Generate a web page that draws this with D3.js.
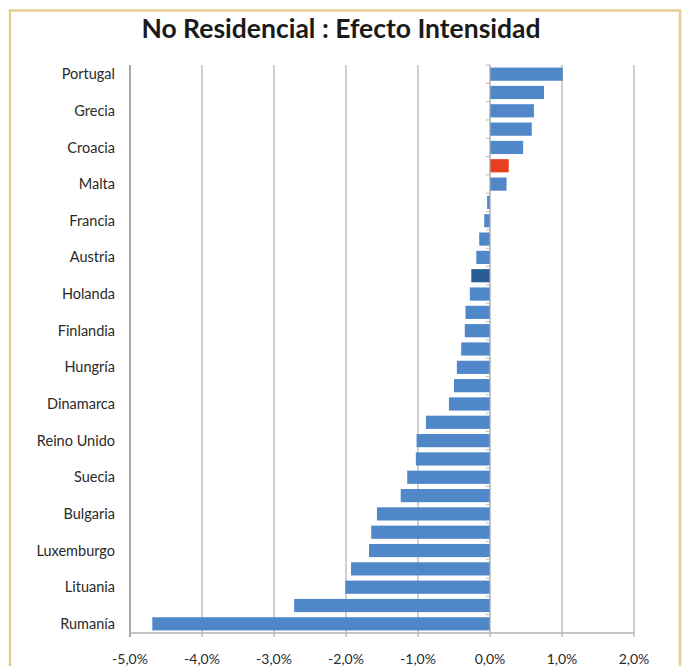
<!DOCTYPE html>
<html>
<head>
<meta charset="utf-8">
<script src="https://cdn.jsdelivr.net/npm/d3@7"></script>
<style>
html,body{margin:0;padding:0;background:#fff;}
svg{display:block;}
</style>
</head>
<body>
<svg id="chart" width="683" height="666"></svg>
<script>
// Data (top to bottom); unlabeled bars have "" labels (Excel skipped them)
const categories = ["Portugal","","Grecia","","Croacia","","Malta","","Francia","","Austria","","Holanda","","Finlandia","","Hungría","","Dinamarca","","Reino Unido","","Suecia","","Bulgaria","","Luxemburgo","","Lituania","","Rumanía"];
const values = [1.01,0.75,0.61,0.58,0.46,0.26,0.23,-0.04,-0.08,-0.15,-0.19,-0.26,-0.28,-0.34,-0.35,-0.40,-0.46,-0.50,-0.57,-0.89,-1.02,-1.03,-1.15,-1.24,-1.57,-1.65,-1.68,-1.93,-2.01,-2.72,-4.69];
const highlightRed = [5];   // index of red bar
const highlightDark = [11]; // index of dark-blue bar
const xTicks = [-5,-4,-3,-2,-1,0,1,2];
const title = "No Residencial : Efecto Intensidad";

const svg = d3.select("#chart");
const plot = {left:130, right:634, top:65, bottom:633};

// frame
svg.append("rect").attr("x",10).attr("y",10.5).attr("width",670).attr("height",700)
  .attr("fill","none").attr("stroke","#E3CD90").attr("stroke-width",2.5);

svg.append("text").attr("x",341).attr("y",38).attr("text-anchor","middle")
  .attr("font-family","Lato, 'Open Sans', sans-serif").attr("font-weight","bold")
  .attr("font-size",26.5).attr("fill","#1a1a1a").text(title);

const x = d3.scaleLinear().domain([-5,2]).range([plot.left, plot.right]);
const y = d3.scaleBand().domain(d3.range(values.length)).range([plot.top, plot.bottom]).paddingInner(0.28).paddingOuter(0.14);

// gridlines
svg.append("g").selectAll("line").data(xTicks).join("line")
  .attr("x1",d=>x(d)).attr("x2",d=>x(d)).attr("y1",plot.top).attr("y2",plot.bottom+4)
  .attr("stroke",d=>d===-5?"#a8a8a8":"#cfcfcf").attr("stroke-width",2);

// bottom axis line
svg.append("line").attr("x1",plot.left).attr("x2",plot.right).attr("y1",plot.bottom).attr("y2",plot.bottom)
  .attr("stroke","#b0b0b0").attr("stroke-width",1.5);

// bars
svg.append("g").selectAll("rect").data(values).join("rect")
  .attr("x",d=>x(Math.min(0,d)))
  .attr("width",d=>Math.abs(x(d)-x(0)))
  .attr("y",(d,i)=>y(i))
  .attr("height",y.bandwidth())
  .attr("fill",(d,i)=>highlightRed.includes(i)?"#E8401E":highlightDark.includes(i)?"#2B5C94":"#4F87C9");

// zero axis with tick marks between categories
svg.append("line").attr("x1",x(0)).attr("x2",x(0)).attr("y1",plot.top).attr("y2",plot.bottom)
  .attr("stroke","#b8b8b8").attr("stroke-width",1);
svg.append("g").selectAll("line").data(d3.range(values.length+1)).join("line")
  .attr("x1",x(0)-4).attr("x2",x(0))
  .attr("y1",i=>plot.top + i*y.step()).attr("y2",i=>plot.top + i*y.step())
  .attr("stroke","#b8b8b8").attr("stroke-width",1);

// category labels
svg.append("g").selectAll("text").data(categories).join("text")
  .attr("x",plot.left-15)
  .attr("y",(d,i)=>y(i)+y.bandwidth()/2)
  .attr("dy","0.35em").attr("text-anchor","end")
  .attr("font-family","Lato, 'Open Sans', sans-serif").attr("font-size",14.5).attr("fill","#2a2a2a")
  .text(d=>d);

// x tick labels
const fmt = v => v.toFixed(1).replace(".",",")+"%";
svg.append("g").selectAll("text").data(xTicks).join("text")
  .attr("x",d=>x(d)).attr("y",664).attr("text-anchor","middle")
  .attr("font-family","Lato, 'Open Sans', sans-serif").attr("font-size",14).attr("fill","#2a2a2a")
  .text(fmt);
</script>
</body>
</html>
